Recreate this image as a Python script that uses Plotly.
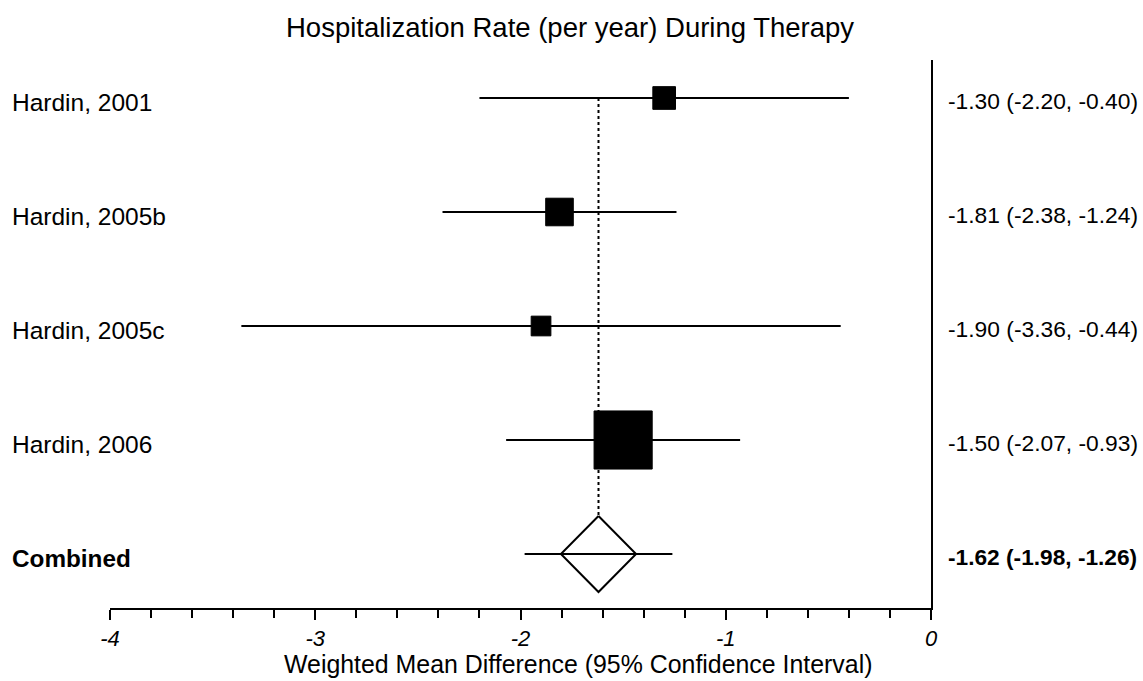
import plotly.graph_objects as go

# Study-level results: weighted mean difference with 95% CI
studies = ["Hardin, 2001", "Hardin, 2005b", "Hardin, 2005c", "Hardin, 2006"]
estimates = [-1.30, -1.81, -1.90, -1.50]
lower_ci = [-2.20, -2.38, -3.36, -2.07]
upper_ci = [-0.40, -1.24, -0.44, -0.93]
weights = [10.2, 15.1, 7.7, 67.0]  # relative study weight (%)

# Pooled result
combined_label = "Combined"
combined_est = -1.62
combined_lower = -1.98
combined_upper = -1.26

x_ticks = [-4, -3, -2, -1, 0]

# ---- layout constants ----
W, H = 1143, 681
M_L, M_R, M_T, M_B = 110, 212, 60, 73
FONT = "Liberation Sans, Arial, sans-serif"
rows = list(range(1, len(studies) + 2))  # 1..5, top to bottom
combined_row = rows[-1]
row_px = 114
y_top = 1 - (98 - M_T) / row_px
y_bot = combined_row + (H - M_B - 554) / row_px

def paper_x(px):
    return (px - M_L) / (W - M_L - M_R)

def fmt(e, lo, hi):
    return f"{e:.2f} ({lo:.2f}, {hi:.2f})"

fig = go.Figure()

# Reference line at the pooled estimate (from first study down to diamond top)
diamond_half_h = 0.333
diamond_half_w = 0.183
fig.add_trace(go.Scatter(
    x=[combined_est, combined_est], y=[rows[0], combined_row - diamond_half_h],
    mode="lines", line=dict(color="black", width=2, dash="dot"),
    hoverinfo="skip", showlegend=False))

# Confidence interval lines for each study
for i in range(len(studies)):
    fig.add_trace(go.Scatter(
        x=[lower_ci[i], upper_ci[i]], y=[rows[i], rows[i]],
        mode="lines", line=dict(color="black", width=2),
        hoverinfo="skip", showlegend=False))

# Point estimates, boxes scaled by study weight
fig.add_trace(go.Scatter(
    x=estimates, y=rows[:len(studies)], mode="markers",
    opacity=1,
    marker=dict(symbol="square", color="#000000", opacity=1,
                size=[7.1 * w ** 0.5 for w in weights],
                line=dict(width=1, color="#000000")),
    hoverinfo="skip", showlegend=False))

# Pooled diamond
fig.add_trace(go.Scatter(
    x=[combined_est, combined_est + diamond_half_w, combined_est,
       combined_est - diamond_half_w, combined_est],
    y=[combined_row - diamond_half_h, combined_row, combined_row + diamond_half_h,
       combined_row, combined_row - diamond_half_h],
    mode="lines", fill="toself", fillcolor="white",
    line=dict(color="black", width=2),
    hoverinfo="skip", showlegend=False))

# Pooled confidence interval line
fig.add_trace(go.Scatter(
    x=[combined_lower, combined_upper], y=[combined_row, combined_row],
    mode="lines", line=dict(color="black", width=2),
    hoverinfo="skip", showlegend=False))

# Row labels on the left and effect text on the right
annotations = []
for i, name in enumerate(studies):
    annotations.append(dict(
        x=paper_x(10), xref="paper", y=rows[i], yref="y", yshift=-4,
        text=name, showarrow=False, xanchor="left", yanchor="middle",
        font=dict(family=FONT, size=24.5, color="black")))
    annotations.append(dict(
        x=paper_x(946), xref="paper", y=rows[i], yref="y", yshift=-3,
        text=fmt(estimates[i], lower_ci[i], upper_ci[i]), showarrow=False,
        xanchor="left", yanchor="middle",
        font=dict(family=FONT, size=22.8, color="black")))
annotations.append(dict(
    x=paper_x(10), xref="paper", y=combined_row, yref="y", yshift=-4,
    text=f"<b>{combined_label}</b>", showarrow=False, xanchor="left",
    yanchor="middle", font=dict(family=FONT, size=24.3, color="black")))
annotations.append(dict(
    x=paper_x(946), xref="paper", y=combined_row, yref="y", yshift=-3,
    text=f"<b>{fmt(combined_est, combined_lower, combined_upper)}</b>",
    showarrow=False, xanchor="left", yanchor="middle",
    font=dict(family=FONT, size=22.7, color="black")))

# Chart title and axis title
annotations.append(dict(
    x=paper_x(570), xref="paper", y=1, yref="paper", yshift=33,
    text="Hospitalization Rate (per year) During Therapy",
    showarrow=False, xanchor="center", yanchor="middle",
    font=dict(family=FONT, size=27.5, color="black")))
annotations.append(dict(
    x=paper_x(578), xref="paper", y=0, yref="paper", yshift=-56,
    text="Weighted Mean Difference (95% Confidence Interval)",
    showarrow=False, xanchor="center", yanchor="middle",
    font=dict(family=FONT, size=24.9, color="black")))

fig.update_layout(
    width=W, height=H,
    margin=dict(l=M_L, r=M_R, t=M_T, b=M_B, pad=0),
    plot_bgcolor="white", paper_bgcolor="white",
    annotations=annotations,
    xaxis=dict(
        range=[-4, 0], tickvals=x_ticks, ticktext=[str(v) for v in x_ticks],
        showgrid=False, zeroline=False, showline=True, linecolor="black",
        linewidth=2, ticks="outside", ticklen=10, tickwidth=2, tickcolor="black",
        tickfont=dict(family=FONT, size=22, color="black", style="italic"),
        minor=dict(dtick=0.2, tick0=-4, ticks="outside", ticklen=8,
                   tickwidth=2, tickcolor="black", showgrid=False),
        fixedrange=True),
    yaxis=dict(
        range=[y_bot, y_top], side="right", showline=True, linecolor="black",
        linewidth=2, showgrid=False, zeroline=False, showticklabels=False,
        ticks="", fixedrange=True),
)

fig.write_html("out.html")
